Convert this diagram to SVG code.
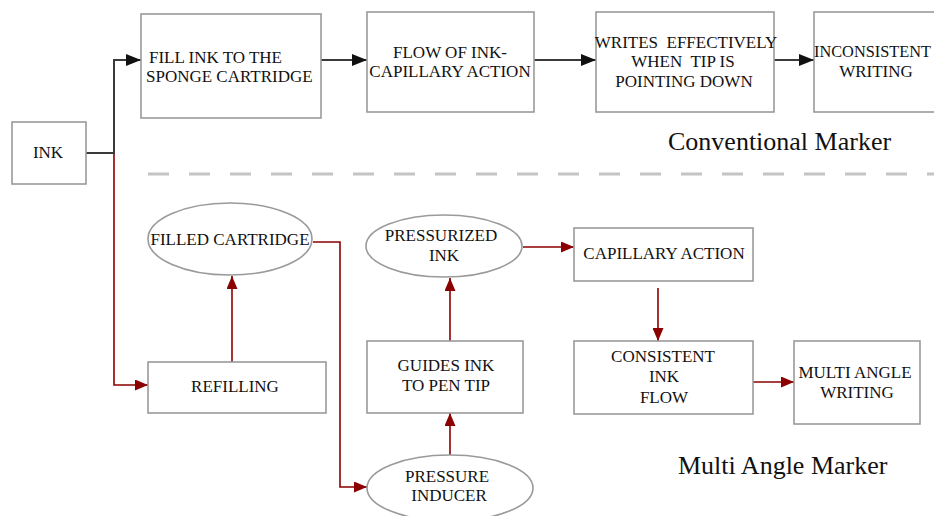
<svg xmlns="http://www.w3.org/2000/svg" width="934" height="516" viewBox="0 0 934 516">
<style>
.box{fill:#fff;stroke:#9a9a9a;stroke-width:1.6}
.t{font-family:"Liberation Serif","Times New Roman",serif;font-size:17px;fill:#111;text-anchor:middle}
.ts{text-anchor:start}
.big{font-family:"Liberation Serif","Times New Roman",serif;font-size:26px;fill:#111}
.blk{fill:none;stroke:#3a3a3a;stroke-width:2}
.red{fill:none;stroke:#8b0000;stroke-width:1.6}
</style>
<defs>
<marker id="ab" markerUnits="userSpaceOnUse" markerWidth="15" markerHeight="12" refX="15" refY="6" orient="auto"><path d="M0,0 L15,6 L0,12 z" fill="#111"/></marker>
<marker id="ar" markerUnits="userSpaceOnUse" markerWidth="13" markerHeight="11" refX="13" refY="5.5" orient="auto"><path d="M0,0 L13,5.5 L0,11 z" fill="#8b0000"/></marker>
</defs>
<rect width="934" height="516" fill="#fff"/>
<line x1="148" y1="174" x2="934" y2="174" stroke="#c4c4c4" stroke-width="3" stroke-dasharray="21 20"/>
<g id="connectors">
<polyline class="blk" points="86,153 114,153 114,60 141,60" marker-end="url(#ab)"/>
<line class="blk" x1="321" y1="60" x2="367" y2="60" marker-end="url(#ab)"/>
<line class="blk" x1="534" y1="60" x2="596" y2="60" marker-end="url(#ab)"/>
<line class="blk" x1="774" y1="60" x2="814" y2="60" marker-end="url(#ab)"/>
<polyline class="red" points="114,154 114,385 148,385" marker-end="url(#ar)"/>
<line class="red" x1="232" y1="362" x2="232" y2="276" marker-end="url(#ar)"/>
<polyline class="red" points="313,242 340,242 340,487 367,487" marker-end="url(#ar)"/>
<line class="red" x1="450" y1="455" x2="450" y2="413" marker-end="url(#ar)"/>
<line class="red" x1="450" y1="341" x2="450" y2="278" marker-end="url(#ar)"/>
<line class="red" x1="523" y1="247" x2="574" y2="247" marker-end="url(#ar)"/>
<line class="red" x1="658" y1="288" x2="658" y2="341" marker-end="url(#ar)"/>
<line class="red" x1="753" y1="382" x2="794" y2="382" marker-end="url(#ar)"/>
</g>
<g id="ink"><rect class="box" x="12" y="122" width="74" height="62"/><text class="t" x="48" y="158">INK</text></g>
<g id="fill"><rect class="box" x="141" y="14" width="180" height="104"/><text class="t ts" x="149" y="63">FILL INK TO THE</text><text class="t ts" x="146" y="82">SPONGE CARTRIDGE</text></g>
<g id="flow"><rect class="box" x="367" y="12" width="167" height="100"/><text class="t" x="450" y="58">FLOW OF INK-</text><text class="t" x="450" y="77">CAPILLARY ACTION</text></g>
<g id="writes"><rect class="box" x="596" y="12" width="178" height="100"/><text class="t" x="686" y="48">WRITES&#160; EFFECTIVELY</text><text class="t" x="683" y="67">WHEN&#160; TIP IS</text><text class="t" x="684" y="87">POINTING DOWN</text></g>
<g id="inconsistent"><rect class="box" x="814" y="12" width="130" height="100"/><text class="t ts" x="814" y="57" textLength="117" lengthAdjust="spacingAndGlyphs">INCONSISTENT</text><text class="t" x="876" y="77">WRITING</text></g>
<text class="big" x="668" y="150">Conventional Marker</text>
<g id="filled"><ellipse class="box" cx="230" cy="239" rx="82" ry="36"/><text class="t" x="230" y="245">FILLED CARTRIDGE</text></g>
<g id="refilling"><rect class="box" x="148" y="362" width="178" height="51"/><text class="t" x="235" y="392">REFILLING</text></g>
<g id="pressurized"><ellipse class="box" cx="444" cy="246" rx="78" ry="31"/><text class="t" x="441" y="241">PRESSURIZED</text><text class="t" x="444" y="261">INK</text></g>
<g id="capillary"><rect class="box" x="574" y="228" width="179" height="53"/><text class="t" x="664" y="259">CAPILLARY ACTION</text></g>
<g id="guides"><rect class="box" x="367" y="341" width="156" height="72"/><text class="t" x="446" y="371">GUIDES INK</text><text class="t" x="446" y="391">TO PEN TIP</text></g>
<g id="inducer"><ellipse class="box" cx="450" cy="488" rx="83" ry="33"/><text class="t" x="447" y="482">PRESSURE</text><text class="t" x="449" y="501">INDUCER</text></g>
<g id="consistent"><rect class="box" x="574" y="341" width="179" height="73"/><text class="t" x="663" y="362">CONSISTENT</text><text class="t" x="664" y="382">INK</text><text class="t" x="664" y="403">FLOW</text></g>
<g id="multi"><rect class="box" x="794" y="341" width="126" height="83"/><text class="t" x="855" y="378">MULTI ANGLE</text><text class="t" x="857" y="398">WRITING</text></g>
<text class="big" x="678" y="474">Multi Angle Marker</text>
</svg>
